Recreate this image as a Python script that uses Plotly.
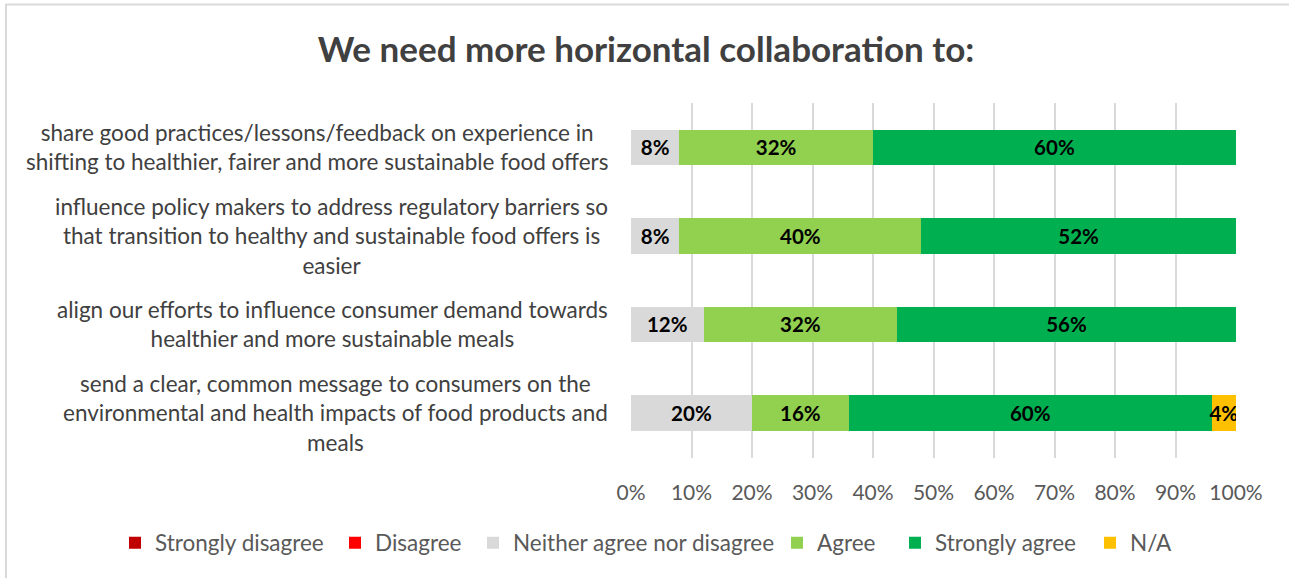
import plotly.graph_objects as go

# Survey statements (top to bottom) and response shares in percent
statements = [
    "share good practices/lessons/feedback on experience in<br>shifting to healthier, fairer and more sustainable food offers",
    "influence policy makers to address regulatory barriers so<br>that transition to healthy and sustainable food offers is<br>easier",
    "align our efforts to influence consumer demand towards<br>healthier and more sustainable meals",
    "send a clear, common message to consumers on the<br>environmental and health impacts of food products and<br>meals",
]
category_ids = ["s1", "s2", "s3", "s4"]

strongly_disagree = [0, 0, 0, 0]
disagree = [0, 0, 0, 0]
neither = [8, 8, 12, 20]
agree = [32, 40, 32, 16]
strongly_agree = [60, 52, 56, 60]
not_applicable = [0, 0, 0, 4]

# name, values, colour, legend entry width (px)
series = [
    ("Strongly disagree", strongly_disagree, "#C00000", 175),
    ("Disagree", disagree, "#FF0000", 93),
    ("Neither agree nor disagree", neither, "#D9D9D9", 259),
    ("Agree", agree, "#92D050", 73),
    ("Strongly agree", strongly_agree, "#00B050", 150),
    ("N/A", not_applicable, "#FFC000", 50),
]

FONT = "Lato, Calibri, Carlito, sans-serif"

fig = go.Figure()
for name, values, color, lw in series:
    fig.add_trace(go.Bar(
        name=name,
        y=category_ids,
        x=values,
        orientation="h",
        marker=dict(color=color, line=dict(width=0)),
        text=[f"{v}%" if v > 0 else "" for v in values],
        textposition="inside",
        insidetextanchor="middle",
        constraintext="none",
        textangle=0,
        textfont=dict(family=FONT, size=20.5, color="#000000", weight="bold"),
        legendwidth=lw,
        hoverinfo="skip",
    ))

# Category labels: right-aligned block, lines centred within it
for cid, label in zip(category_ids, statements):
    fig.add_annotation(
        x=0, xref="paper", y=cid, yref="y",
        xanchor="right", yanchor="middle", xshift=-21,
        text=label, align="center", showarrow=False,
        font=dict(family=FONT, size=22.5, color="#404040"),
    )

# Chart frame (top and left edges visible)
fig.add_shape(type="rect", xref="paper", yref="paper",
              x0=-1.0331, x1=1.25, y0=-0.6, y1=1.2775,
              line=dict(color="#D9D9D9", width=2), fillcolor="rgba(0,0,0,0)", layer="below")

fig.update_layout(
    width=1289, height=578,
    barmode="stack", bargap=0.6,
    paper_bgcolor="white", plot_bgcolor="white",
    margin=dict(l=631, r=53, t=103, b=120, autoexpand=False),
    title=dict(text="<b>We need more horizontal collaboration to:</b>",
               x=646 / 1289, xanchor="center", y=1 - 50 / 578, yanchor="middle",
               font=dict(family=FONT, size=35, color="#404040")),
    xaxis=dict(range=[0, 100], dtick=10, ticksuffix="%",
               showgrid=True, gridcolor="#D9D9D9", gridwidth=2,
               zeroline=False, showline=False, ticks="",
               tickfont=dict(family=FONT, size=21, color="#595959"),
               ticklabelstandoff=20, fixedrange=True),
    yaxis=dict(autorange="reversed", showticklabels=False, showgrid=False,
               zeroline=False, showline=False, fixedrange=True),
    legend=dict(orientation="h", x=(115 - 631) / 605, xref="paper", xanchor="left",
                y=(458 - 543) / 355, yref="paper", yanchor="middle",
                font=dict(family=FONT, size=22.5, color="#595959"),
                traceorder="normal", itemclick=False, itemdoubleclick=False),
    showlegend=True,
)

fig.write_html("out.html")
